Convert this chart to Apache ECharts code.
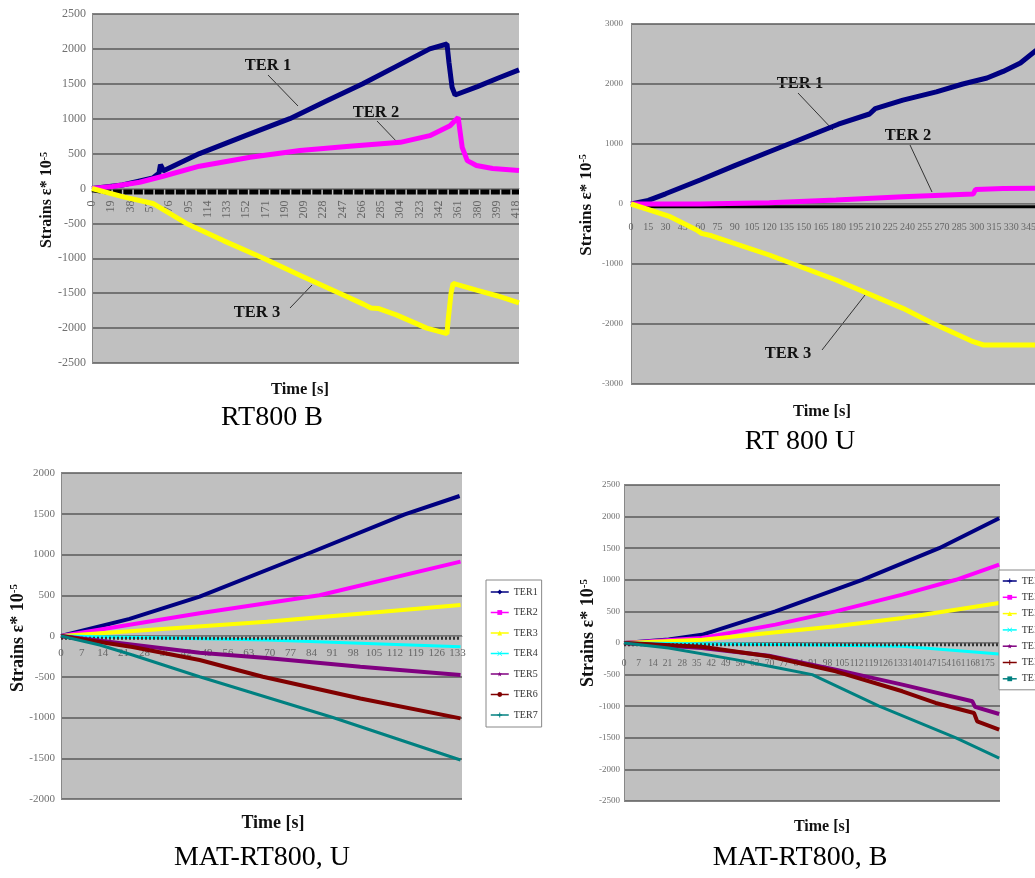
<!DOCTYPE html>
<html><head><meta charset="utf-8">
<script src="https://cdn.jsdelivr.net/npm/echarts@6/dist/echarts.min.js"></script>
<style>html,body{margin:0;padding:0;background:#fff;overflow:hidden}#c{width:1035px;height:878px}</style>
</head><body><div id="c"></div><script>
// ---------- DATA (time [s], strain) ----------
// RT800 B
const rtbTER1 = [[0,0],[30,50],[60,150],[66,220],[67.5,340],[69,300],[70,250],[106,500],[150,750],[195,1000],[230,1245],[267,1500],[300,1750],[333,2000],[350,2070],[352,1800],[355,1450],[358,1340],[380,1460],[400,1580],[421,1700]];
const rtbTER2 = [[0,0],[20,30],[47,90],[70,176],[106,320],[156,447],[205,543],[254,604],[304,661],[333,757],[353,900],[361,1018],[365,590],[370,400],[379,330],[395,286],[421,257]];
const rtbTER3 = [[0,0],[32,-124],[60,-214],[93,-500],[130,-750],[169,-1000],[206,-1250],[244,-1500],[268,-1660],[275,-1712],[282,-1718],[300,-1810],[330,-2000],[350,-2080],[351,-1900],[354,-1500],[356,-1360],[380,-1460],[400,-1540],[421,-1640]];
const rtbREF  = [[0,-20],[15,-50],[421,-50]];
// RT 800 U
const rtuTER1 = [[0,0],[15,60],[30,170],[60,400],[90,640],[120,870],[150,1100],[180,1330],[207,1500],[212,1590],[236,1730],[265,1870],[288,2000],[309,2100],[323,2210],[338,2350],[351,2550],[360,2650]];
const rtuTER2 = [[0,0],[60,0],[120,22],[178,67],[236,122],[297,165],[299,240],[323,258],[360,262]];
const rtuTER3 = [[0,0],[34,-211],[57,-433],[61,-489],[70,-530],[120,-850],[178,-1267],[236,-1739],[260,-1970],[297,-2295],[306,-2350],[360,-2350]];
const rtuREF  = [[0,0],[10,-45],[360,-45]];
// MAT-RT800, U
const matuTER1 = [[0,0],[23,210],[46.5,482],[81.7,994],[115.3,1492],[133.7,1718]];
const matuTER2 = [[0,0],[46.5,280],[86.7,500],[134,912]];
const matuTER3 = [[0,0],[69,175],[134,380]];
const matuTER4 = [[0,0],[69,-50],[134,-131]];
const matuTER5 = [[0,0],[46.5,-205],[69,-270],[100.4,-377],[134,-479]];
const matuTER6 = [[0,0],[24,-135],[46.5,-295],[67.7,-500],[100.4,-766],[134,-1011]];
const matuTER7 = [[0,0],[13,-110],[24,-233],[46.5,-500],[91.2,-1000],[134,-1521]];
const matuREF  = [[0,-29],[134,-29]];
// MAT-RT800, B
const matbTER1 = [[0,0],[21.5,55],[37.5,130],[72.9,500],[114.7,1000],[151.7,1500],[180.6,1975]];
const matbTER2 = [[0,0],[37.5,80],[72.9,291],[101.9,500],[134,766],[159.8,1000],[180.6,1240]];
const matbTER3 = [[0,0],[37.5,53],[101.9,264],[134,396],[180.6,633]];
const matbTER4 = [[0,0],[84,-26],[134,-52],[180.6,-174]];
const matbTER5 = [[0,0],[37.5,-79],[69.7,-200],[101.9,-421],[134,-658],[167.7,-922],[169,-1010],[180.6,-1123]];
const matbTER6 = [[0,0],[37.5,-60],[69.7,-210],[101.9,-448],[134,-764],[150,-949],[168.5,-1108],[170,-1239],[180.6,-1370]];
const matbTER7 = [[0,0],[21.5,-80],[53.6,-263],[75,-400],[90.6,-500],[122.8,-1000],[159.8,-1500],[180.6,-1820]];
const matbREF  = [[0,-26],[180.6,-26]];

const namesU = ['TER1','TER2','TER3','TER4','TER5','TER6','TER7'];
const namesB = ['TER 1','TER 2','TER 3','TER 4','TER 5','TER 6','TER 7'];
const colors = ['#000080','#ff00ff','#ffff00','#00ffff','#800080','#800000','#008080'];

// ---------- STYLE ----------
const SERIF = 'Liberation Serif';
const SYM_X = 'path://M0,1L1,0L5,4L9,0L10,1L6,5L10,9L9,10L5,6L1,10L0,9L4,5Z';
const SYM_PLUS = 'path://M4,0H6V4H10V6H6V10H4V6H0V4H4Z';
const SYM_STAR = 'path://M5,0L6.2,3.8L10,3.8L6.9,6.2L8.1,10L5,7.6L1.9,10L3.1,6.2L0,3.8L3.8,3.8Z';
const SYM_DASH = 'path://M0,4H10V6H0Z';
const symsU = ['diamond','rect','triangle',SYM_X,SYM_STAR,'circle',SYM_PLUS];
const symsB = [SYM_PLUS,'rect','triangle',SYM_X,SYM_STAR,SYM_PLUS,SYM_DASH];

function ln(name, data, color, width, idx, opt) {
  return Object.assign({
    type:'line', name, data, xAxisIndex: idx, yAxisIndex: idx,
    showSymbol:false, symbol:'none', symbolSize:6, silent:true,
    lineStyle:{color, width}, itemStyle:{color}, clip:true
  }, opt || {});
}

const series = [
  ln('ref0', rtbREF, '#000', 5, 0, {lineStyle:{color:'#000', width:5, type:[9,1.5]}}),
  ln('RT1', rtbTER1, colors[0], 5, 0),
  ln('RT2', rtbTER2, colors[1], 5, 0),
  ln('RT3', rtbTER3, colors[2], 5, 0),
  ln('ref1', rtuREF, '#000', 3, 1),
  ln('RU1', rtuTER1, colors[0], 5, 1),
  ln('RU2', rtuTER2, colors[1], 5, 1),
  ln('RU3', rtuTER3, colors[2], 5, 1),
];
const matU = [matuTER1, matuTER2, matuTER3, matuTER4, matuTER5, matuTER6, matuTER7];
const matB = [matbTER1, matbTER2, matbTER3, matbTER4, matbTER5, matbTER6, matbTER7];
matU.forEach((d, i) => {
  series.push(ln(namesU[i], d, colors[i], (i === 3 || i === 6) ? 3 : 4, 2, {symbol: symsU[i]}));
  if (i === 3) series.push(ln('ref2', matuREF, '#333', 3, 2, {lineStyle:{color:'#333', width:3, type:[2,2]}}));
});
matB.forEach((d, i) => {
  series.push(ln(namesB[i], d, colors[i], (i === 3 || i === 6) ? 3 : 4, 3, {symbol: symsB[i]}));
  if (i === 3) series.push(ln('ref3', matbREF, '#333', 3, 3, {lineStyle:{color:'#333', width:3, type:[2,2]}}));
});

function grid(left, top, width, height) {
  return {left, top, width, height, show:true, backgroundColor:'#c0c0c0', borderWidth:0, outerBoundsMode:'none'};
}
// x axis drawn at the zero line of its grid (offset is negative: moved up from the grid bottom)
function xAx(idx, max, interval, fs, margin, offset, rotate) {
  return {gridIndex: idx, type:'value', min:0, max, interval, offset,
    axisLine:{show:true, onZero:false, lineStyle:{color:'#888', width:1}},
    axisTick:{show:false}, splitLine:{show:false},
    axisLabel:{fontFamily:SERIF, fontSize:fs, color:'#666', margin, rotate: rotate || 0, showMaxLabel:false, hideOverlap:false,
      formatter: v => String(v)}};
}
function yAx(idx, min, max, interval, fs, margin) {
  return {gridIndex: idx, type:'value', min, max, interval,
    axisLine:{show:true, onZero:false, lineStyle:{color:'#888', width:1}},
    axisTick:{show:false},
    splitLine:{show:true, lineStyle:{color:'#5a5a5a', width:1.5}},
    axisLabel:{fontFamily:SERIF, fontSize:fs, color:'#707070', margin, formatter: v => String(v)}};
}

function yTitle(x, y, fs) {
  return {type:'text', x, y, rotation: Math.PI/2, silent:true,
    style:{text:'{m|Strains ε* 10}{s|-5}', align:'center', verticalAlign:'middle',
      rich:{m:{fontFamily:SERIF, fontWeight:'bold', fontSize:fs, fill:'#111'},
            s:{fontFamily:SERIF, fontWeight:'bold', fontSize:Math.round(fs*0.6), fill:'#111', verticalAlign:'top'}}}};
}
function txt(text, x, y, fs, bold) {
  return {type:'text', x, y, silent:true,
    style:{text, align:'center', verticalAlign:'middle', fontFamily:SERIF, fontSize:fs, fontWeight: bold ? 'bold' : 'normal', fill: bold ? '#111' : '#000'}};
}
function lead(x1, y1, x2, y2) {
  return {type:'line', silent:true, shape:{x1, y1, x2, y2}, style:{stroke:'#333', lineWidth:1}};
}

const graphic = [
  // RT800 B
  yTitle(47, 200, 16), txt('Time [s]', 300, 390, 16.5, true), txt('RT800 B', 272, 418, 28, false),
  txt('TER 1', 268, 66, 16.5, true), lead(268, 75, 298, 106),
  txt('TER 2', 376, 113, 16.5, true), lead(377, 121, 398, 143),
  txt('TER 3', 257, 313, 16.5, true), lead(290, 308, 312, 285),
  // RT 800 U
  yTitle(587, 205, 17), txt('Time [s]', 822, 412, 16.5, true), txt('RT 800 U', 800, 442, 28, false),
  txt('TER 1', 800, 84, 16.5, true), lead(798, 93, 833, 130),
  txt('TER 2', 908, 136, 16.5, true), lead(910, 145, 932, 192),
  txt('TER 3', 788, 354, 16.5, true), lead(822, 350, 865, 295),
  // MAT-RT800, U
  yTitle(18, 638, 18), txt('Time [s]', 273, 823, 18, true), txt('MAT-RT800, U', 262, 858, 28, false),
  // MAT-RT800, B
  yTitle(588, 633, 18), txt('Time [s]', 822, 827, 16, true), txt('MAT-RT800, B', 800, 858, 28, false)
];

function legend(data, left, top, gap, pad, iw) {
  return {data, orient:'vertical', left, top, itemWidth:iw, itemHeight:6, itemGap:gap,
    selectedMode:false, backgroundColor:'#fff', borderColor:'#888', borderWidth:1, borderRadius:0,
    padding:pad, lineStyle:{width:1.5}, textStyle:{fontFamily:SERIF, fontSize:10, color:'#333'}};
}

const option = {
  animation:false,
  backgroundColor:'#fff',
  grid:[grid(92, 14, 427, 349), grid(631, 24, 466.6, 360), grid(61, 473, 401, 326), grid(624, 485, 376, 316)],
  xAxis:[xAx(0, 421, 19, 12, 12, -174.5, 90), xAx(1, 405, 15, 10, 18, -180), xAx(2, 134.5, 7, 11, 12, -163), xAx(3, 181, 7, 9.5, 15, -158)],
  yAxis:[yAx(0, -2500, 2500, 500, 12, 6), yAx(1, -3000, 3000, 1000, 9, 8), yAx(2, -2000, 2000, 500, 11, 6), yAx(3, -2500, 2500, 500, 9, 4)],
  legend:[legend(namesU, 486, 580, 10.5, [7,4,7,4], 18), legend(namesB, 999, 570, 6.3, [6,3,6,3], 14)],
  graphic,
  series
};
const chart = echarts.init(document.getElementById('c'), null, {renderer:'canvas'});
chart.setOption(option);
</script></body></html>
